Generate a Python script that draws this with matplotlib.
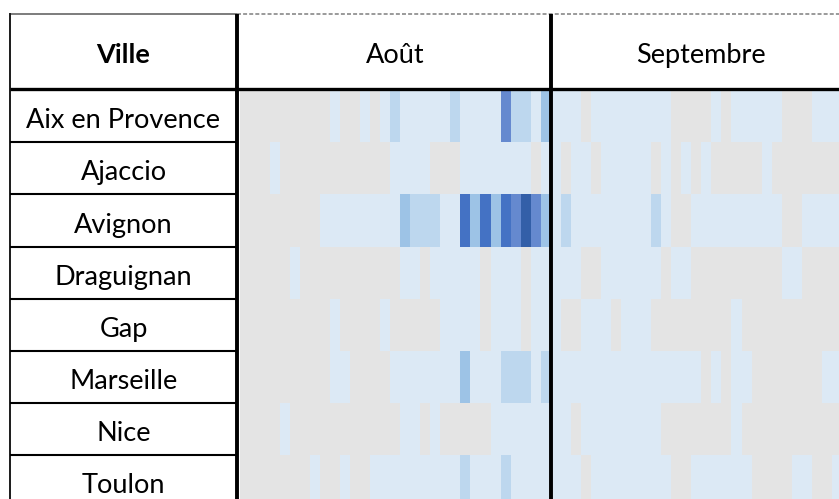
import numpy as np
import matplotlib
matplotlib.use("Agg")
import matplotlib.pyplot as plt
from matplotlib.colors import ListedColormap

# ---------------- data ----------------
villes = ["Aix en Provence", "Ajaccio", "Avignon", "Draguignan", "Gap",
          "Marseille", "Nice", "Toulon"]
mois = ["Août", "Septembre"]
jours_par_mois = [31, 30]

# intensity level per day (0 = none, 1..6 = increasing)
aout = {
    "Aix en Provence": [0,0,0,0,0,0,0,0,0,1,0,0,1,0,1,2,1,1,1,1,1,2,1,1,1,1,4,2,2,1,3],
    "Ajaccio":         [0,0,0,1,0,0,0,0,0,0,0,0,0,0,0,1,1,1,1,0,0,0,1,1,1,1,1,1,1,0,1],
    "Avignon":         [0,0,0,0,0,0,0,0,1,1,1,1,1,1,1,1,3,2,2,2,1,1,5,3,5,3,5,4,6,4,3],
    "Draguignan":      [0,0,0,0,0,1,0,0,0,0,0,0,0,0,0,0,1,1,0,1,1,1,1,1,0,1,1,1,0,1,1],
    "Gap":             [0,0,0,0,0,0,0,0,0,1,0,0,0,0,1,0,0,0,0,0,1,1,1,1,0,1,1,1,0,1,1],
    "Marseille":       [0,0,0,0,0,0,0,0,0,1,1,0,0,0,0,1,1,1,1,1,1,1,3,1,1,1,2,2,2,1,2],
    "Nice":            [0,0,0,0,1,0,0,0,0,0,0,0,0,0,0,0,1,1,0,1,0,0,0,0,0,1,1,1,1,1,1],
    "Toulon":          [0,0,0,0,0,0,0,1,0,0,1,0,0,1,1,1,1,1,1,1,1,1,2,1,1,1,2,1,1,1,1],
}
septembre = {
    "Aix en Provence": [1,1,1,0,1,1,1,1,1,1,1,1,0,0,0,0,1,0,1,1,1,1,1,0,0,0,1,1,1,1],
    "Ajaccio":         [1,0,1,1,0,1,1,1,1,1,0,1,0,1,0,1,0,0,0,0,0,1,0,0,0,0,0,0,0,0],
    "Avignon":         [1,2,1,1,1,1,1,1,1,1,2,1,0,0,1,1,1,1,1,1,1,1,1,0,0,1,1,1,1,1],
    "Draguignan":      [1,1,1,0,0,1,1,1,1,1,1,0,1,1,0,0,0,0,0,0,0,0,0,1,1,0,0,0,0,0],
    "Gap":             [1,0,0,1,1,1,0,1,1,1,0,0,0,0,0,0,0,0,1,0,0,0,0,0,0,0,0,0,0,0],
    "Marseille":       [1,1,1,1,1,1,1,1,1,1,1,1,1,1,1,0,1,0,1,1,0,0,0,0,0,0,0,1,1,1],
    "Nice":            [1,1,0,1,1,1,1,1,1,1,1,0,0,0,0,0,0,0,1,0,0,0,0,0,0,0,0,0,0,0],
    "Toulon":          [1,1,1,0,1,1,1,1,1,1,1,1,0,0,1,1,1,1,1,1,0,0,0,0,1,1,0,0,1,1],
}

couleurs = ["#E4E4E4", "#DCE9F5", "#BDD7EE", "#9DC3E6", "#6589CF", "#4472C4", "#335FA8"]

# ---------------- layout (pixels) ----------------
W, H = 839, 499
DPI = 100
x_left = 10.0       # left border
x_sep = 237.0       # Ville | heatmap separator
x_heat = 239.5      # heatmap start
cell_w = 10.04
y_top = 14.3
y_head = 89.2
y_rows = 90.2
row_h = 52.1

n_days = sum(jours_par_mois)
n_rows = len(villes)

fig = plt.figure(figsize=(W / DPI, H / DPI), dpi=DPI)
fig.patch.set_facecolor("white")

# heatmap axes (extends beyond the figure on right/bottom, as in the reference)
hx0 = x_heat / W
hw = n_days * cell_w / W
hy_top = y_rows
hy_bot = y_rows + n_rows * row_h
axh = fig.add_axes([hx0, 1 - hy_bot / H, hw, (hy_bot - hy_top) / H])
mat = np.array([aout[v] + septembre[v] for v in villes])
cmap = ListedColormap(couleurs)
axh.pcolormesh(np.arange(n_days + 1), np.arange(n_rows + 1), mat, cmap=cmap,
               vmin=-0.5, vmax=len(couleurs) - 0.5, edgecolors="none",
               antialiased=False)
axh.set_xlim(0, n_days)
axh.set_ylim(n_rows, 0)
axh.axis("off")

# overlay axes in pixel coordinates for table grid and text
ax = fig.add_axes([0, 0, 1, 1], facecolor="none")
ax.set_xlim(0, W)
ax.set_ylim(H, 0)
ax.axis("off")

font = ["Lato", "DejaVu Sans"]
fs = 19.5

# month boundaries
x_month = [x_heat]
for n in jours_par_mois:
    x_month.append(x_month[-1] + n * cell_w)

# top border
ax.plot([x_left, x_sep], [y_top, y_top], color="#595959", lw=1.1, solid_capstyle="butt")
ax.plot([x_sep, W], [y_top, y_top], color="#7f7f7f", lw=1.1,
        linestyle=(0, (2.6, 1.4)))
# left border
ax.plot([x_left, x_left], [y_top, H], color="#1a1a1a", lw=1.4)
# thick vertical separators
ax.plot([x_sep, x_sep], [y_top, H], color="black", lw=2.8, solid_capstyle="butt")
ax.plot([x_month[1], x_month[1]], [y_top, H], color="black", lw=2.8, solid_capstyle="butt")
# header bottom
ax.plot([x_left, W], [y_head, y_head], color="black", lw=2.4, solid_capstyle="butt")
# row separators in Ville column
for i in range(1, n_rows):
    y = y_rows + i * row_h
    ax.plot([x_left, x_sep], [y, y], color="black", lw=1.5, solid_capstyle="butt")

# header texts
base_head = y_top + 49.0
ax.text((x_left + x_sep) / 2, base_head, "Ville", ha="center", va="baseline",
        fontsize=fs, fontweight="bold", family=font)
for i, m in enumerate(mois):
    ax.text((x_month[i] + x_month[i + 1]) / 2, base_head, m, ha="center",
            va="baseline", fontsize=fs, family=font)

# city labels
for i, v in enumerate(villes):
    ax.text((x_left + x_sep) / 2, y_rows + i * row_h + 38.1, v, ha="center",
            va="baseline", fontsize=fs, family=font)

fig.savefig("out.png", dpi=DPI)
